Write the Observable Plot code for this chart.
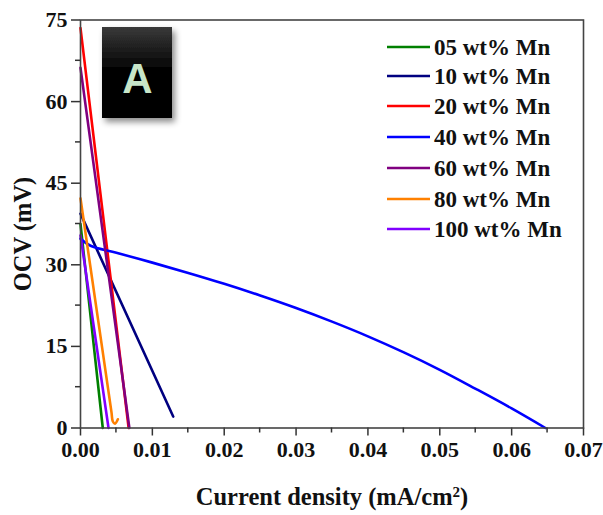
<!DOCTYPE html>
<html>
<head>
<meta charset="utf-8">
<script src="https://cdn.jsdelivr.net/npm/d3@7"></script>
<script src="https://cdn.jsdelivr.net/npm/@observablehq/plot@0.6"></script>
<style>
  html, body { margin: 0; padding: 0; background: #fff; }
  #chart { width: 603px; height: 515px; }
</style>
</head>
<body>
<div id="chart"></div>
<script>
// ---- data ----
const seriesNames = ["05 wt% Mn", "10 wt% Mn", "20 wt% Mn", "40 wt% Mn", "60 wt% Mn", "80 wt% Mn", "100 wt% Mn"];
const seriesColors = ["#008000", "#000080", "#ff0000", "#0000ff", "#800080", "#ff8000", "#8000ff"];

const x05 = [0, 0.0031];
const y05 = [37.5, 0];
const x10 = [0, 0.0129];
const y10 = [39.4, 2.1];
const x20 = [0, 0.0067];
const y20 = [73.5, 0];
const x40 = [0, 0.0014, 0.005, 0.01, 0.015, 0.02, 0.025, 0.03, 0.035, 0.04, 0.045, 0.05, 0.055, 0.06, 0.0647];
const y40 = [34.8, 33.5, 32.2, 30.4, 28.5, 26.5, 24.35, 22.05, 19.55, 16.85, 13.9, 10.7, 7.2, 3.6, 0];
const x60 = [0, 0.0068];
const y60 = [66.2, 0];
const x80 = [0, 0.0043, 0.0045, 0.0048, 0.0052];
const y80 = [42.2, 3.0, 1.2, 0.8, 1.6];
const x100 = [0, 0.0039];
const y100 = [35.4, 0];

const xValues = [x05, x10, x20, x40, x60, x80, x100];
const yValues = [y05, y10, y20, y40, y60, y80, y100];

const xMajorTicks = [0, 0.01, 0.02, 0.03, 0.04, 0.05, 0.06, 0.07];
const xMinorTicks = [0.005, 0.015, 0.025, 0.035, 0.045, 0.055, 0.065];
const yMajorTicks = [0, 15, 30, 45, 60, 75];
const yMinorTicks = [7.5, 22.5, 37.5, 52.5, 67.5];

const xLabel = "Current density (mA/cm";
const xLabelSup = "2";
const yLabel = "OCV (mV)";
const panelLetter = "A";

// ---- table ----
const rows = [];
seriesNames.forEach((s, i) => {
  xValues[i].forEach((xv, j) => rows.push({series: s, x: xv, y: yValues[i][j]}));
});

const serif = "'Liberation Serif', 'Times New Roman', serif";

const chart = Plot.plot({
  width: 603,
  height: 515,
  marginLeft: 80,
  marginRight: 20,
  marginTop: 19.5,
  marginBottom: 87.5,
  style: {fontFamily: serif, fontWeight: "bold", fontSize: "22px", color: "#111", background: "#fff", overflow: "visible"},
  x: {domain: [0, 0.07]},
  y: {domain: [0, 75]},
  color: {domain: seriesNames, range: seriesColors},
  marks: [
    Plot.axisX({ticks: xMajorTicks, tickSize: 8, tickPadding: 5, tickFormat: d3.format(".2f"), label: null, stroke: "#333", strokeWidth: 1.5, fontSize: 22}),
    Plot.axisY({ticks: yMajorTicks, tickSize: 9, tickPadding: 4, tickFormat: d3.format("d"), label: null, stroke: "#333", strokeWidth: 1.5, fontSize: 22}),
    Plot.line(rows, {x: "x", y: "y", z: "series", stroke: "series", strokeWidth: 2.6, curve: "catmull-rom"}),
    Plot.frame({stroke: "#444", strokeWidth: 1.6})
  ]
});

document.getElementById("chart").appendChild(chart);

// ---- overlays: minor ticks (via the plot's scales), axis titles, panel letter, legend ----
const svg = d3.select(chart);
const sx = chart.scale("x"), sy = chart.scale("y");
const y0px = sy.apply(0), x0px = sx.apply(0);
const minor = svg.append("g").attr("stroke", "#333").attr("stroke-width", 1.5);
xMinorTicks.forEach(v => {
  const px = sx.apply(v);
  minor.append("line").attr("x1", px).attr("x2", px).attr("y1", y0px).attr("y2", y0px + 5);
});
yMinorTicks.forEach(v => {
  const py = sy.apply(v);
  minor.append("line").attr("x1", x0px - 5).attr("x2", x0px).attr("y1", py).attr("y2", py);
});

const xt = svg.append("text")
  .attr("x", 332).attr("y", 505)
  .attr("text-anchor", "middle")
  .style("font-family", serif).style("font-weight", "bold").style("font-size", "24.5px").attr("fill", "#111");
xt.append("tspan").text(xLabel);
xt.append("tspan").text(xLabelSup).attr("baseline-shift", "super").style("font-size", "15px");
xt.append("tspan").text(")");

svg.append("text")
  .attr("transform", "translate(31,234) rotate(-90)")
  .attr("text-anchor", "middle")
  .style("font-family", serif).style("font-weight", "bold").style("font-size", "24.5px").attr("fill", "#111")
  .text(yLabel);

const defs = svg.append("defs");
const grad = defs.append("linearGradient").attr("id", "boxgrad").attr("x1", 0).attr("y1", 0).attr("x2", 0).attr("y2", 1);
grad.append("stop").attr("offset", "0%").attr("stop-color", "#3a3a3a");
grad.append("stop").attr("offset", "45%").attr("stop-color", "#050505");
grad.append("stop").attr("offset", "100%").attr("stop-color", "#000");
const filt = defs.append("filter").attr("id", "boxshadow").attr("x", "-20%").attr("y", "-20%").attr("width", "150%").attr("height", "150%");
filt.append("feDropShadow").attr("dx", 3).attr("dy", 4).attr("stdDeviation", 3).attr("flood-color", "#000").attr("flood-opacity", 0.45);

svg.append("rect").attr("x", 102).attr("y", 27).attr("width", 70).attr("height", 91)
  .attr("fill", "url(#boxgrad)").attr("filter", "url(#boxshadow)");
svg.append("text").attr("x", 137.5).attr("y", 93)
  .attr("text-anchor", "middle")
  .style("font-family", "'Liberation Sans', Arial, sans-serif").style("font-weight", "bold").style("font-size", "42px")
  .attr("fill", "#c8e6c9").text(panelLetter);

const legendY = [47, 76, 106, 137, 168, 199, 229];
const lg = svg.append("g").attr("text-anchor", "start");
seriesNames.forEach((s, i) => {
  lg.append("line").attr("x1", 387).attr("x2", 430).attr("y1", legendY[i]).attr("y2", legendY[i])
    .attr("stroke", seriesColors[i]).attr("stroke-width", 2.6);
  lg.append("text").attr("x", 434).attr("y", legendY[i]).attr("dy", "0.35em")
    .attr("text-anchor", "start")
    .style("font-family", serif).style("font-weight", "bold").style("font-size", "23px").attr("fill", "#111")
    .text(s);
});
</script>
</body>
</html>
